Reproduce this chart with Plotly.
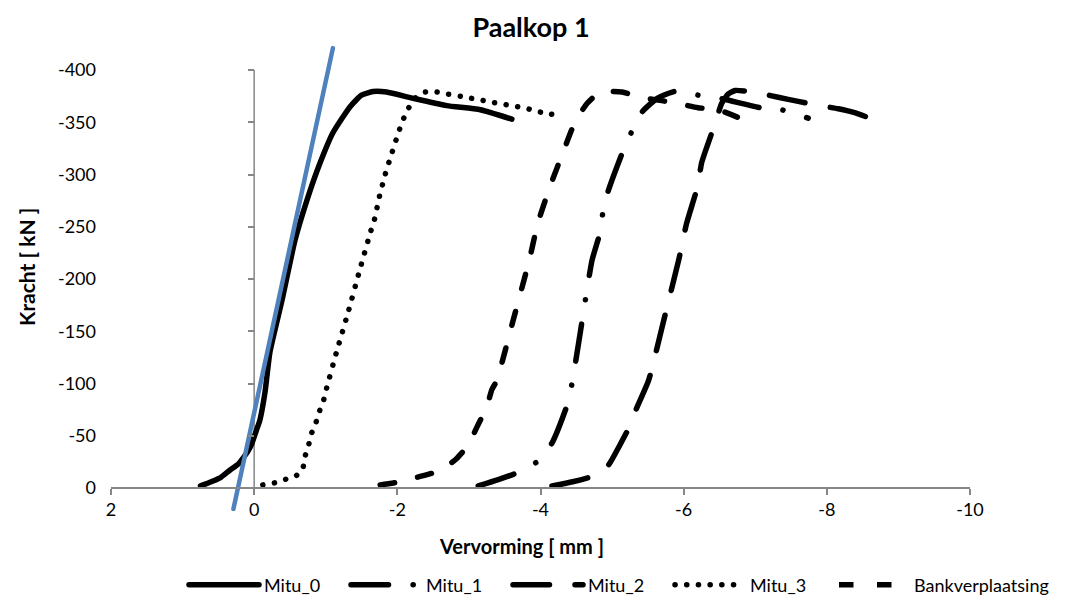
import plotly.graph_objects as go

# Load-deformation curves of pile head 1 (deformation in mm, force in kN)
mitu0_x = [0.75, 0.60, 0.47, 0.34, 0.22, 0.15, 0.08, 0.03, -0.03, -0.08, -0.15, -0.22, -0.39,
           -0.57, -0.74, -0.92, -1.10, -1.34, -1.50, -1.66, -1.85, -2.22, -2.69, -3.16, -3.60]
mitu0_y = [-2, -6, -10, -17, -23, -29, -36, -43, -55, -65, -91, -130, -180,
           -237, -276, -311, -340, -365, -376, -379.5, -379, -373, -366, -362, -353]

mitu1_x = [-3.13, -3.41, -3.69, -3.97, -4.16, -4.37, -4.44, -4.54, -4.72, -4.83, -4.87, -4.94,
           -5.15, -5.28, -5.42, -5.63, -5.90, -6.20, -6.51, -7.07, -7.37, -7.74]
mitu1_y = [-2, -8, -15, -26, -43, -79, -100, -142, -218, -244, -263, -283,
           -322, -342, -360, -373, -380, -376, -373, -364, -362, -354]

mitu2_x = [-4.16, -4.45, -4.76, -4.95, -5.10, -5.23, -5.34, -5.51, -5.72, -5.93, -6.04, -6.20,
           -6.25, -6.44, -6.53, -6.62, -6.72, -6.85, -7.05, -7.32, -7.60, -7.90, -8.16, -8.40, -8.60]
mitu2_y = [-2, -6, -12, -22, -40, -57, -76, -103, -160, -218, -253, -290,
           -311, -349, -368, -377, -380.5, -380, -378, -374, -370, -366, -363, -359, -354]

mitu3_x = [-0.12, -0.29, -0.45, -0.60, -0.68, -0.71, -0.76, -0.80, -0.86, -0.91, -0.97, -1.01,
           -1.15, -1.32, -1.48, -1.63, -1.68, -1.75, -1.83, -1.93, -2.03, -2.09, -2.16, -2.25,
           -2.39, -2.55, -2.71, -2.88, -3.03, -3.19, -3.34, -3.51, -3.67, -3.82, -3.98, -4.14, -4.30]
mitu3_y = [-3, -5, -8.6, -12.4, -19, -30, -41, -52, -62, -73, -84, -95,
           -130, -170, -210, -246, -257, -279, -300, -322, -343, -354, -364, -373,
           -379, -379, -377, -375, -373, -371, -369, -367, -365, -363, -360, -358, -355]

bank_x = [-1.76, -2.04, -2.29, -2.57, -2.81, -2.99, -3.11, -3.25, -3.32, -3.39, -3.62, -3.85,
          -3.96, -4.13, -4.33, -4.48, -4.65, -4.83, -5.14, -5.39, -5.67, -5.92, -6.20, -6.48, -6.75]
bank_y = [-3, -6, -10.5, -16, -27, -41, -58, -78, -94, -103, -161, -220,
          -253, -288, -324, -350, -368, -379, -379, -374, -371, -368, -364, -362, -355]

# Initial stiffness (tangent) line
tangent_x = [0.29, -1.10]
tangent_y = [20, -421]

x_ticks = [2, 0, -2, -4, -6, -8, -10]
y_ticks = [0, -50, -100, -150, -200, -250, -300, -350, -400]

X_RANGE = [2, -10]
Y_RANGE = [22, -424]

FONT = "Lato"
AXIS_GREY = "#868686"
LW = 5.5

# name, x, y, dash pattern, legend group box
series = [
    ("Mitu_0", mitu0_x, mitu0_y, "solid", "legend"),
    ("Mitu_1", mitu1_x, mitu1_y, "37.5px,24.6px,0.1px,24.6px", "legend"),
    ("Mitu_2", mitu2_x, mitu2_y, "36.5px,25.5px", "legend"),
    ("Mitu_3", mitu3_x, mitu3_y, "0.1px,11.6px", "legend"),
    ("Bankverplaatsing", bank_x, bank_y, "14.5px,23.5px", "legend2"),
]

fig = go.Figure()
for name, xs, ys, dash, leg in series:
    fig.add_trace(go.Scatter(
        x=xs, y=ys, name=name, mode="lines", legend=leg,
        line=dict(color="black", width=LW, dash=dash, shape="spline", smoothing=0.5),
    ))

fig.add_trace(go.Scatter(
    x=tangent_x, y=tangent_y, mode="lines", showlegend=False, yaxis="y2",
    line=dict(color="#4F81BD", width=4.5),
))

# paper position of the origin, used to place the crossing axes
x0_paper = (0 - X_RANGE[0]) / (X_RANGE[1] - X_RANGE[0])
y0_paper = (0 - Y_RANGE[0]) / (Y_RANGE[1] - Y_RANGE[0])

legend_style = dict(orientation="h", xanchor="left", y=(511 - 585) / 466, yanchor="middle",
                    itemwidth=70, entrywidth=77, entrywidthmode="pixels",
                    font=dict(family=FONT, size=18), bgcolor="rgba(0,0,0,0)")

fig.update_layout(
    width=1070, height=601,
    margin=dict(l=111, r=100, t=45, b=90, autoexpand=False),
    paper_bgcolor="white", plot_bgcolor="white",
    font=dict(family=FONT, size=18, color="black"),
    title=dict(text="<b>Paalkop 1</b>", x=(531 - 111) / 859, xref="paper", xanchor="center",
               y=1 - 28 / 601, yanchor="middle", font=dict(family=FONT, size=27, color="black")),
    xaxis=dict(range=X_RANGE, tickvals=x_ticks, ticktext=[str(v) for v in x_ticks],
               showgrid=False, zeroline=False, showline=True, linecolor=AXIS_GREY, linewidth=1.5,
               ticks="outside", ticklen=6, tickcolor=AXIS_GREY, tickwidth=1.5,
               anchor="free", position=y0_paper, tickfont=dict(size=18)),
    yaxis=dict(range=Y_RANGE, tickvals=y_ticks, ticktext=[str(v) for v in y_ticks],
               showgrid=False, zeroline=False, showline=False, ticks="",
               ticklabelstandoff=14, tickfont=dict(size=18)),
    yaxis2=dict(range=Y_RANGE, tickvals=y_ticks, overlaying="y", anchor="free",
                position=x0_paper, side="left", showgrid=False, zeroline=False,
                showline=False, showticklabels=False, ticks="outside", ticklen=6,
                tickcolor=AXIS_GREY, tickwidth=1.5),
    legend=dict(legend_style, x=(184 - 111) / 859),
    legend2=dict(legend_style, x=(834 - 111) / 859, entrywidth=150),
    shapes=[dict(type="line", xref="x", yref="y", x0=0, x1=0, y0=0, y1=-400,
                 line=dict(color=AXIS_GREY, width=1.5), layer="below")],
    annotations=[
        dict(text="<b>Vervorming [ mm ]</b>", xref="paper", yref="paper",
             x=(521 - 111) / 859, y=(511 - 546) / 466, xanchor="center", yanchor="middle",
             showarrow=False, font=dict(family=FONT, size=20)),
        dict(text="<b>Kracht [ kN ]</b>", xref="paper", yref="paper",
             x=(26 - 111) / 859, y=(511 - 267) / 466, xanchor="center", yanchor="middle",
             textangle=-90, showarrow=False, font=dict(family=FONT, size=21)),
    ],
)

round_caps = """
var s = document.createElement('style');
s.innerHTML = '.scatterlayer .js-line, .legend .js-line {stroke-linecap: round;}';
document.head.appendChild(s);
"""

fig.write_html("out.html", post_script=round_caps)
